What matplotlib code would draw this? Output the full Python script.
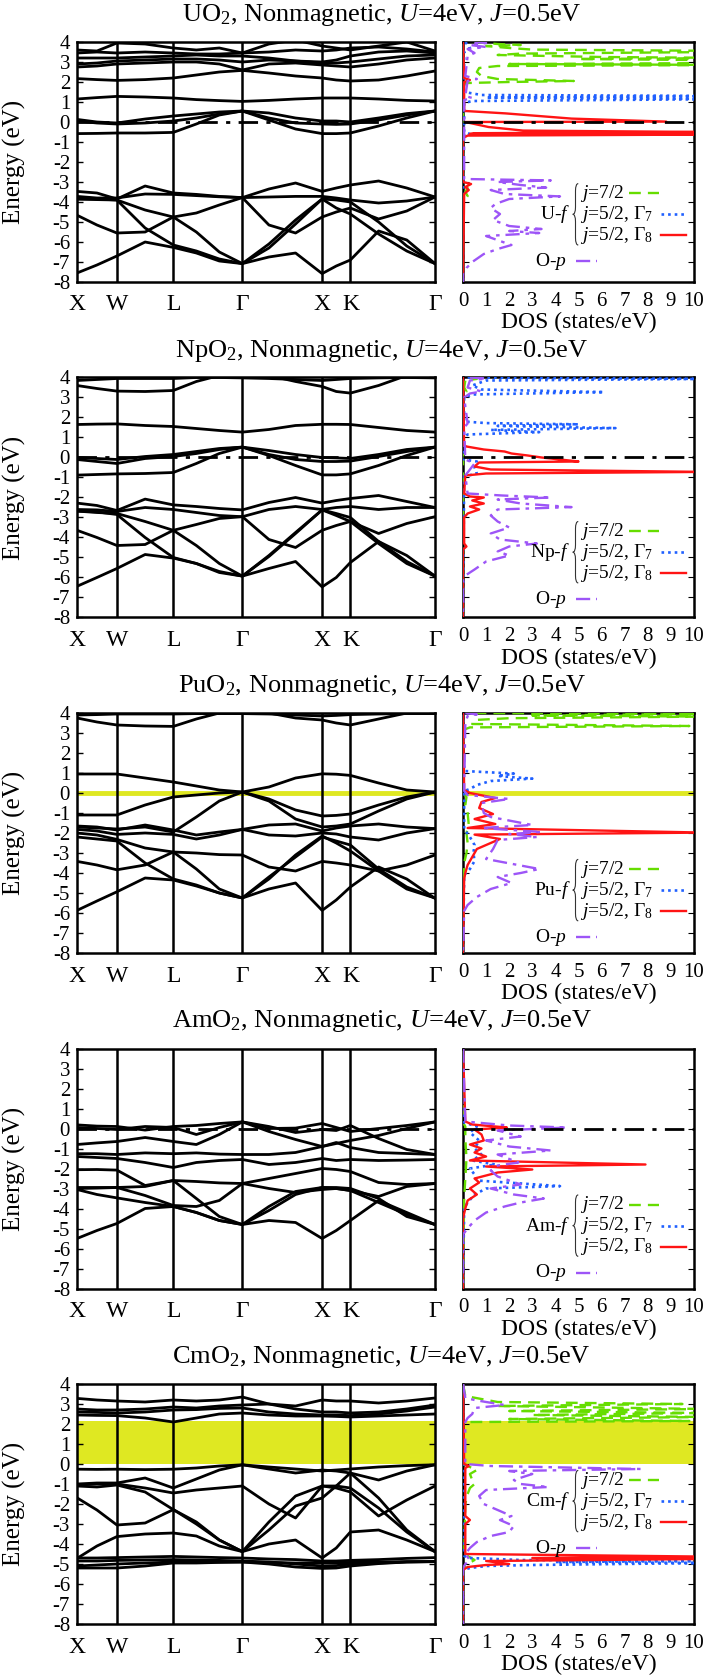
import matplotlib
matplotlib.use("Agg")
import matplotlib.pyplot as plt
from matplotlib.path import Path
from matplotlib.patches import PathPatch

plt.rcParams["font.family"] = ["Liberation Serif", "DejaVu Serif"]
plt.rcParams["mathtext.fontset"] = "custom"
plt.rcParams["mathtext.rm"] = "Liberation Serif"
plt.rcParams["mathtext.it"] = "Liberation Serif:italic"
plt.rcParams["axes.unicode_minus"] = False

# ==========================================================
# k-path (fcc): X W L G X K G
# ==========================================================

KPATH = [0.000, 0.250, 0.500, 0.854, 1.207, 1.496, 1.784, 2.073,
         2.406, 2.740, 3.073, 3.250, 3.427, 3.781, 4.134, 4.488]
KLABEL_POS = [0.000, 0.500, 1.207, 2.073, 3.073, 3.427, 4.488]
KLABELS = ["X", "W", "L", "Γ", "X", "K", "Γ"]

# ==========================================================
# Band energies (eV) sampled at KPATH
# ==========================================================

UO2_BANDS = [
    [-7.55, -7.15, -6.70, -6.00, -6.27, -6.55, -6.95, -7.08, -6.75, -6.55, -7.58, -7.20, -6.90, -5.45, -5.90, -7.08],
    [-4.66, -5.15, -5.55, -5.50, -4.75, -5.50, -6.50, -7.08, -6.30, -5.10, -3.85, -4.30, -4.60, -5.60, -6.45, -7.08],
    [-3.85, -3.88, -3.90, -5.30, -6.15, -6.45, -6.85, -7.08, -6.10, -4.90, -3.85, -3.90, -4.00, -5.00, -6.20, -7.08],
    [-3.85, -3.85, -3.90, -4.40, -4.75, -4.55, -4.15, -3.78, -5.15, -5.55, -4.75, -4.50, -4.30, -4.85, -4.45, -3.75],
    [-3.72, -3.80, -3.80, -3.60, -3.62, -3.68, -3.74, -3.78, -3.75, -3.72, -3.72, -3.80, -3.90, -4.05, -3.95, -3.75],
    [-3.47, -3.55, -3.85, -3.20, -3.55, -3.62, -3.72, -3.78, -3.35, -3.05, -3.47, -3.30, -3.15, -2.95, -3.30, -3.75],
    [-0.58, -0.57, -0.55, -0.55, -0.52, -0.10, 0.35, 0.55, 0.45, 0.20, 0.05, 0.05, 0.00, 0.20, 0.42, 0.55],
    [0.05, -0.05, -0.10, -0.05, 0.05, 0.20, 0.40, 0.55, 0.10, -0.35, -0.58, -0.58, -0.55, -0.20, 0.20, 0.55],
    [0.13, 0.00, -0.05, 0.15, 0.30, 0.40, 0.50, 0.55, 0.20, -0.05, -0.10, -0.12, -0.10, 0.10, 0.35, 0.55],
    [1.15, 1.22, 1.28, 1.25, 1.20, 1.12, 1.07, 1.03, 1.08, 1.15, 1.20, 1.20, 1.20, 1.15, 1.08, 1.05],
    [2.17, 2.12, 2.08, 2.12, 2.20, 2.35, 2.50, 2.58, 2.45, 2.30, 2.20, 2.10, 2.05, 2.10, 2.30, 2.55],
    [2.75, 2.80, 2.90, 2.95, 3.00, 3.00, 2.90, 2.60, 2.90, 2.95, 2.85, 2.80, 2.75, 2.90, 3.10, 3.20],
    [2.90, 2.95, 3.05, 3.10, 3.15, 3.15, 3.10, 3.00, 3.10, 3.05, 2.95, 2.95, 3.00, 3.15, 3.30, 3.35],
    [3.20, 3.20, 3.20, 3.25, 3.30, 3.35, 3.30, 3.30, 3.20, 3.05, 3.00, 3.10, 3.30, 3.50, 3.55, 3.45],
    [3.45, 3.50, 3.45, 3.50, 3.45, 3.40, 3.40, 3.45, 3.50, 3.60, 3.55, 3.60, 3.70, 3.75, 3.65, 3.50],
    [3.60, 3.55, 3.95, 3.90, 3.70, 3.60, 3.70, 3.45, 3.90, 4.10, 3.80, 3.70, 3.60, 3.80, 4.00, 3.55],
]

NPO2_BANDS = [
    [-6.44, -6.00, -5.55, -4.85, -5.03, -5.30, -5.70, -5.93, -5.55, -5.20, -6.47, -6.00, -5.25, -4.20, -4.90, -5.93],
    [-3.64, -4.00, -4.40, -4.35, -3.64, -4.40, -5.30, -5.93, -4.90, -3.75, -2.62, -2.90, -3.20, -4.30, -5.30, -5.93],
    [-2.68, -2.72, -2.85, -4.00, -5.00, -5.30, -5.75, -5.93, -4.95, -3.80, -2.62, -2.80, -3.00, -4.20, -5.20, -5.93],
    [-2.68, -2.75, -2.80, -3.20, -3.64, -3.35, -3.05, -2.96, -4.10, -4.50, -3.64, -3.40, -3.20, -3.80, -3.30, -2.96],
    [-2.60, -2.62, -2.70, -2.50, -2.60, -2.75, -2.90, -2.96, -2.60, -2.45, -2.60, -2.50, -2.45, -2.60, -2.50, -2.50],
    [-2.28, -2.40, -2.65, -2.08, -2.37, -2.45, -2.55, -2.62, -2.25, -2.00, -2.28, -2.15, -2.05, -1.90, -2.20, -2.50],
    [-0.88, -0.85, -0.82, -0.80, -0.75, -0.30, 0.20, 0.52, 0.35, 0.15, 0.00, -0.02, -0.05, 0.15, 0.40, 0.52],
    [0.00, -0.05, -0.10, 0.05, 0.15, 0.30, 0.45, 0.52, 0.10, -0.40, -0.87, -0.87, -0.82, -0.40, 0.10, 0.52],
    [-0.10, -0.20, -0.30, -0.05, 0.05, 0.20, 0.40, 0.52, 0.15, -0.10, -0.20, -0.20, -0.18, 0.05, 0.30, 0.52],
    [1.65, 1.67, 1.68, 1.60, 1.55, 1.45, 1.35, 1.27, 1.40, 1.60, 1.66, 1.66, 1.65, 1.50, 1.35, 1.27],
    [3.60, 3.45, 3.32, 3.30, 3.35, 3.80, 4.10, 4.30, 4.10, 3.80, 3.55, 3.30, 3.22, 3.60, 4.10, 4.30],
    [3.85, 3.90, 3.95, 3.95, 3.95, 4.00, 4.00, 3.98, 3.95, 3.90, 3.85, 3.90, 3.95, 3.98, 4.00, 3.98],
]

PUO2_BANDS = [
    [-5.87, -5.40, -4.94, -4.25, -4.35, -4.65, -5.00, -5.25, -4.80, -4.50, -5.87, -5.35, -4.70, -3.70, -4.30, -5.27],
    [-3.42, -3.60, -3.84, -3.60, -2.95, -3.80, -4.80, -5.25, -4.30, -3.10, -2.15, -2.50, -2.90, -3.90, -4.80, -5.25],
    [-2.20, -2.30, -2.40, -3.50, -4.30, -4.60, -5.00, -5.25, -4.20, -3.20, -2.20, -2.40, -2.60, -3.80, -4.70, -5.25],
    [-2.00, -2.10, -2.32, -2.75, -2.95, -3.00, -3.08, -3.10, -3.70, -3.90, -3.42, -3.50, -3.60, -3.90, -3.60, -3.10],
    [-1.82, -1.90, -2.07, -2.00, -2.07, -2.30, -2.10, -1.82, -2.10, -2.15, -2.00, -2.05, -2.20, -2.35, -2.00, -1.78],
    [-1.65, -1.70, -1.85, -1.60, -1.85, -2.10, -1.95, -1.82, -1.60, -1.55, -1.90, -1.75, -1.65, -1.55, -1.70, -1.78],
    [-1.70, -1.75, -1.80, -1.70, -1.95, -1.20, -0.40, 0.05, -0.40, -1.30, -1.70, -1.65, -1.55, -0.90, -0.30, 0.05],
    [-1.10, -1.10, -1.10, -0.60, -0.20, -0.10, 0.00, 0.05, -0.30, -0.85, -1.15, -1.12, -1.05, -0.60, -0.20, 0.05],
    [0.95, 0.95, 0.95, 0.75, 0.55, 0.35, 0.15, 0.05, 0.30, 0.75, 0.96, 0.94, 0.88, 0.50, 0.15, 0.05],
    [3.75, 3.55, 3.40, 3.35, 3.33, 3.70, 4.00, 4.20, 4.00, 3.75, 3.65, 3.50, 3.40, 3.70, 4.00, 4.20],
    [3.90, 3.92, 3.95, 3.95, 3.95, 3.97, 3.97, 3.97, 3.95, 3.90, 3.85, 3.88, 3.92, 3.95, 3.97, 3.97],
]

AMO2_BANDS = [
    [-5.50, -5.10, -4.75, -4.00, -3.90, -4.20, -4.60, -4.80, -4.60, -4.70, -5.50, -5.10, -4.60, -3.60, -4.20, -4.80],
    [-3.05, -3.30, -3.47, -3.70, -3.90, -4.20, -4.60, -4.80, -4.10, -3.30, -2.95, -3.00, -3.10, -3.70, -4.30, -4.80],
    [-3.00, -2.98, -2.95, -2.90, -2.60, -3.50, -4.40, -4.80, -3.90, -3.15, -2.95, -2.95, -3.00, -3.50, -4.40, -4.80],
    [-2.95, -2.95, -2.95, -3.35, -3.85, -3.90, -3.60, -2.75, -3.00, -3.20, -3.05, -3.00, -3.10, -3.40, -2.90, -2.75],
    [-2.06, -2.05, -2.08, -2.85, -2.60, -2.65, -2.72, -2.75, -2.50, -2.25, -2.00, -2.05, -2.15, -2.70, -2.80, -2.75],
    [-1.40, -1.45, -1.50, -1.70, -1.95, -1.70, -1.60, -1.55, -1.80, -1.70, -1.50, -1.60, -1.55, -1.60, -1.58, -1.55],
    [-1.26, -1.26, -1.30, -1.22, -1.26, -1.22, -1.28, -1.30, -1.30, -1.20, -0.90, -0.70, -0.95, -1.20, -1.25, -1.30],
    [-0.80, -0.72, -0.65, -0.45, -0.65, -0.80, -0.30, 0.33, 0.10, -0.20, -0.05, -0.10, 0.15, -0.50, -1.05, -1.30],
    [0.05, 0.00, -0.05, 0.10, 0.05, -0.30, 0.05, 0.33, -0.15, -0.55, -0.90, -0.75, -0.60, -0.35, 0.00, 0.33],
    [0.18, 0.12, 0.10, -0.08, 0.10, 0.15, 0.25, 0.33, 0.00, 0.02, 0.25, 0.05, -0.15, 0.00, 0.15, 0.33],
]

CMO2_BANDS = [
    [-5.20, -5.20, -5.20, -5.10, -4.95, -4.95, -4.92, -4.90, -5.00, -5.15, -5.22, -5.20, -5.10, -4.98, -4.90, -4.88],
    [-5.10, -5.05, -5.00, -4.95, -4.90, -4.88, -4.90, -4.90, -4.92, -4.95, -4.95, -4.95, -4.92, -4.90, -4.88, -4.88],
    [-4.85, -4.85, -4.82, -4.80, -4.78, -4.80, -4.82, -4.85, -4.90, -5.00, -5.10, -5.08, -5.00, -4.95, -4.90, -4.88],
    [-4.70, -4.70, -4.68, -4.65, -4.62, -4.65, -4.68, -4.70, -4.75, -4.78, -4.85, -4.85, -4.82, -4.78, -4.72, -4.68],
    [-4.72, -4.10, -3.63, -3.50, -3.45, -3.60, -4.10, -4.38, -4.00, -3.80, -4.70, -4.20, -3.40, -3.30, -3.80, -4.38],
    [-1.69, -2.30, -3.05, -2.95, -2.28, -3.00, -3.80, -4.38, -3.30, -2.10, -1.70, -1.10, -0.45, -1.70, -3.30, -4.38],
    [-1.10, -1.15, -1.05, -1.40, -2.28, -2.90, -3.80, -4.38, -2.90, -1.60, -1.10, -1.10, -1.20, -2.20, -3.40, -4.38],
    [-1.05, -1.00, -1.00, -1.20, -1.45, -1.30, -1.20, -1.10, -2.00, -2.70, -1.10, -1.20, -1.40, -2.60, -1.80, -1.10],
    [-1.00, -0.95, -0.95, -0.70, -1.20, -0.75, -0.30, -0.04, -0.25, -0.45, -0.30, -0.35, -0.45, -0.80, -0.35, -0.04],
    [-0.26, -0.27, -0.26, -0.28, -0.26, -0.20, -0.10, -0.04, -0.15, -0.25, -0.35, -0.30, -0.25, -0.15, -0.08, -0.04],
    [2.45, 2.43, 2.42, 2.30, 2.10, 2.30, 2.50, 2.55, 2.45, 2.40, 2.40, 2.38, 2.35, 2.40, 2.45, 2.50],
    [2.60, 2.58, 2.55, 2.60, 2.70, 2.72, 2.78, 2.80, 2.60, 2.50, 2.45, 2.45, 2.42, 2.50, 2.65, 2.85],
    [2.75, 2.70, 2.70, 2.75, 2.85, 2.80, 2.90, 2.95, 3.00, 2.75, 2.60, 2.60, 2.55, 2.60, 2.75, 2.95],
    [3.28, 3.20, 3.15, 3.10, 3.20, 3.15, 3.20, 3.35, 3.00, 2.90, 3.20, 3.15, 3.15, 3.05, 3.15, 3.30],
]

# ==========================================================
# Projected DOS: (energy eV, states/eV)
# ==========================================================

UO2_J72 = [(4.0, 0.5), (3.9, 1.5), (3.85, 2.5), (3.8, 1.0), (3.7, 2.0), (3.62, 3.0), (3.55, 12), (3.5, 11),
           (3.42, 2.5), (3.35, 1.5), (3.25, 6), (3.2, 12), (3.15, 5), (3.08, 12), (3.02, 11), (2.95, 12),
           (2.9, 2.0), (2.85, 12), (2.8, 1.5), (2.7, 0.7), (2.5, 0.6), (2.3, 0.8), (2.15, 1.5), (2.05, 4.8),
           (2.0, 2.0), (1.95, 0.2), (1.9, 0.0), (-3.1, 0.0), (-3.3, 0.2), (-3.5, 0.1), (-3.7, 0.2),
           (-4.0, 0.0), (-8.0, 0.0)]
UO2_G7 = [(4.0, 0.1), (3.7, 0.3), (3.5, 0.05), (1.5, 0.05), (1.35, 0.8), (1.3, 12), (1.22, 1.0),
          (1.15, 12), (1.05, 0.4), (0.95, 0.05), (-0.5, 0.05), (-0.6, 0.3), (-0.7, 0.0), (-8.0, 0.0)]
UO2_G8 = [(4.0, 0.0), (2.2, 0.05), (2.1, 0.3), (2.0, 0.05), (0.6, 0.05), (0.55, 0.1), (0.43, 1.85),
          (0.17, 4.7), (0.02, 8.8), (0.0, 0.1), (-0.25, 1.1), (-0.43, 2.6), (-0.5, 10.5), (-0.56, 0.5),
          (-0.6, 0.3), (-0.63, 10.5), (-0.68, 0.2), (-0.8, 0.0), (-3.0, 0.0), (-3.1, 0.35), (-3.25, 0.1),
          (-3.4, 0.25), (-3.6, 0.05), (-8.0, 0.0)]
UO2_OP = [(4.0, 0.5), (3.95, 1.0), (3.85, 0.3), (3.75, 1.0), (3.65, 0.2), (3.45, 0.5), (3.3, 0.2),
          (2.3, 0.1), (2.15, 0.6), (2.05, 0.2), (1.3, 0.1), (1.2, 0.4), (1.1, 0.05), (-2.85, 0.05),
          (-2.92, 3.8), (-3.0, 1.5), (-3.15, 2.5), (-3.28, 3.6), (-3.4, 1.2), (-3.6, 1.8), (-3.72, 4.2),
          (-3.85, 2.0), (-4.1, 1.4), (-4.3, 1.2), (-4.6, 1.6), (-4.9, 1.3), (-5.2, 2.0), (-5.35, 3.4),
          (-5.45, 2.0), (-5.55, 3.3), (-5.7, 1.0), (-5.95, 1.6), (-6.15, 2.1), (-6.35, 1.5), (-6.6, 0.9),
          (-7.0, 0.4), (-7.3, 0.15), (-7.6, 0.0), (-8.0, 0.0)]

NPO2_J72 = [(4.0, 0.3), (3.93, 0.6), (3.85, 0.1), (3.5, 0.05), (3.3, 0.15), (3.2, 0.0), (-8.0, 0.0)]
NPO2_G7 = [(4.0, 0.2), (3.93, 10.5), (3.85, 1.0), (3.6, 0.4), (3.4, 0.8), (3.27, 6.1), (3.15, 0.4),
           (3.0, 0.05), (1.8, 0.05), (1.72, 1.0), (1.66, 5.0), (1.58, 1.5), (1.47, 6.6), (1.38, 1.2),
           (1.27, 3.3), (1.15, 0.2), (1.0, 0.0), (-0.1, 0.05), (-0.2, 0.6), (-0.5, 0.5), (-0.8, 0.6),
           (-0.95, 0.05), (-8.0, 0.0)]
NPO2_G8 = [(4.0, 0.0), (0.6, 0.05), (0.55, 0.15), (0.4, 0.9), (0.3, 1.8), (0.2, 2.1), (0.1, 2.8),
           (0.0, 3.4), (-0.1, 4.2), (-0.2, 5.0), (-0.25, 0.7), (-0.45, 0.5), (-0.6, 1.2), (-0.72, 10.5),
           (-0.8, 1.0), (-0.9, 0.1), (-1.8, 0.05), (-1.95, 0.3), (-2.0, 0.9), (-2.15, 0.4), (-2.3, 0.9),
           (-2.45, 0.3), (-2.6, 0.7), (-2.8, 0.2), (-3.0, 0.05), (-4.3, 0.05), (-4.45, 0.15), (-4.6, 0.0),
           (-8.0, 0.0)]
NPO2_OP = [(4.0, 0.3), (3.95, 1.0), (3.85, 0.3), (3.5, 0.2), (3.3, 0.8), (3.2, 0.3), (3.0, 0.05),
           (1.7, 0.2), (1.5, 0.05), (-0.1, 0.1), (-0.3, 0.5), (-0.6, 0.3), (-0.9, 0.1), (-1.8, 0.2),
           (-1.9, 1.7), (-2.0, 3.8), (-2.1, 1.5), (-2.3, 2.5), (-2.48, 4.7), (-2.6, 1.5), (-2.9, 1.2),
           (-3.2, 1.5), (-3.5, 2.0), (-3.8, 1.2), (-4.1, 1.6), (-4.3, 3.2), (-4.45, 2.0), (-4.7, 1.5),
           (-4.9, 2.0), (-5.2, 1.0), (-5.6, 0.5), (-5.9, 0.1), (-6.1, 0.0), (-8.0, 0.0)]

PUO2_J72 = [(4.0, 0.5), (3.95, 10.5), (3.88, 3.0), (3.82, 10.5), (3.74, 2.0), (3.65, 0.5), (3.45, 0.4),
            (3.35, 9.8), (3.28, 0.3), (3.15, 0.0), (0.0, 0.0), (-0.2, 0.15), (-0.6, 0.1), (-1.0, 0.2),
            (-1.6, 0.25), (-2.0, 0.15), (-2.5, 0.2), (-3.0, 0.15), (-3.5, 0.05), (-8.0, 0.0)]
PUO2_G7 = [(4.0, 0.0), (1.1, 0.05), (0.97, 2.2), (0.85, 1.5), (0.72, 3.0), (0.6, 1.2), (0.4, 0.6),
           (0.2, 0.3), (0.1, 0.05), (-1.8, 0.05), (-2.2, 0.3), (-2.6, 0.5), (-3.0, 0.45), (-3.4, 0.5),
           (-3.8, 0.3), (-4.1, 0.05), (-8.0, 0.0)]
PUO2_G8 = [(4.0, 0.0), (0.15, 0.05), (0.0, 0.3), (-0.25, 1.4), (-0.45, 0.8), (-0.75, 0.7), (-1.05, 1.3),
           (-1.3, 0.5), (-1.55, 1.4), (-1.75, 0.2), (-1.98, 10.5), (-2.08, 0.5), (-2.3, 1.6), (-2.5, 1.2),
           (-2.8, 0.6), (-3.2, 0.4), (-3.6, 0.2), (-4.0, 0.1), (-4.3, 0.05), (-8.0, 0.0)]
PUO2_OP = [(4.0, 0.1), (3.93, 0.6), (3.85, 0.2), (3.5, 0.1), (0.1, 0.05), (-0.1, 0.2), (-0.3, 2.0),
           (-0.5, 0.8), (-1.0, 0.9), (-1.2, 1.2), (-1.6, 3.0), (-1.75, 0.8), (-1.95, 3.4), (-2.05, 2.0),
           (-2.2, 3.2), (-2.35, 1.5), (-2.8, 1.3), (-3.3, 1.0), (-3.8, 3.3), (-4.0, 2.5), (-4.2, 1.5),
           (-4.5, 2.1), (-4.8, 1.2), (-5.2, 0.6), (-5.6, 0.2), (-5.9, 0.05), (-8.0, 0.0)]

AMO2_J72 = [(4.0, 0.0), (0.3, 0.0), (0.1, 0.1), (-0.5, 0.1), (-1.5, 0.15), (-2.5, 0.1), (-3.5, 0.05),
            (-8.0, 0.0)]
AMO2_G7 = [(4.0, 0.0), (0.3, 0.05), (0.1, 0.6), (-0.2, 0.3), (-0.6, 0.7), (-1.0, 0.5), (-1.3, 0.8),
           (-1.6, 0.4), (-1.8, 1.4), (-2.0, 0.3), (-2.3, 0.5), (-2.6, 0.6), (-2.88, 4.2), (-3.0, 1.0),
           (-3.3, 0.5), (-3.7, 0.2), (-4.0, 0.05), (-8.0, 0.0)]
AMO2_G8 = [(4.0, 0.0), (0.35, 0.1), (0.2, 0.4), (0.1, 1.4), (0.05, 1.9), (-0.05, 0.5), (-0.3, 0.8),
           (-0.6, 0.9), (-0.8, 0.3), (-1.0, 0.8), (-1.2, 0.5), (-1.4, 1.0), (-1.6, 0.3), (-1.8, 7.9),
           (-1.9, 1.0), (-2.05, 3.0), (-2.2, 1.5), (-2.5, 0.5), (-2.7, 0.7), (-3.0, 0.3), (-3.3, 0.6),
           (-3.6, 0.2), (-4.0, 0.1), (-4.5, 0.0), (-8.0, 0.0)]
AMO2_OP = [(4.0, 0.0), (0.35, 0.1), (0.15, 2.0), (0.05, 4.5), (-0.1, 1.5), (-0.4, 2.5), (-0.6, 1.0),
           (-0.9, 2.0), (-1.1, 3.8), (-1.3, 1.5), (-1.7, 2.4), (-1.85, 1.5), (-2.1, 1.2), (-2.4, 1.5),
           (-2.8, 2.5), (-3.0, 1.2), (-3.3, 2.2), (-3.5, 3.5), (-3.7, 2.5), (-3.9, 1.8), (-4.2, 1.0),
           (-4.6, 0.5), (-5.0, 0.2), (-5.3, 0.0), (-8.0, 0.0)]

CMO2_J72 = [(4.0, 0.0), (3.4, 0.1), (3.25, 0.8), (3.1, 1.5), (3.0, 9.5), (2.9, 1.5), (2.75, 10.5),
            (2.65, 2.0), (2.55, 10.5), (2.45, 3.0), (2.35, 10.5), (2.25, 2.0), (2.15, 9.8), (2.1, 0.3),
            (2.0, 0.0), (0.0, 0.0), (-0.1, 0.2), (-0.3, 0.6), (-0.5, 0.3), (-0.8, 0.4), (-1.0, 0.5),
            (-1.2, 0.3), (-1.5, 0.2), (-2.0, 0.1), (-4.5, 0.05), (-4.6, 0.2), (-4.8, 0.5), (-5.0, 0.2),
            (-5.2, 0.0), (-8.0, 0.0)]
CMO2_G7 = [(4.0, 0.0), (-4.6, 0.05), (-4.7, 0.3), (-4.8, 2.5), (-4.85, 10.5), (-4.9, 4.0), (-4.95, 10.5),
           (-5.05, 3.0), (-5.1, 1.0), (-5.2, 0.3), (-5.3, 0.0), (-8.0, 0.0)]
CMO2_G8 = [(4.0, 0.0), (0.0, 0.05), (-0.1, 0.25), (-0.2, 0.1), (-2.6, 0.1), (-2.8, 0.3), (-3.0, 0.1),
           (-4.5, 0.1), (-4.63, 10.5), (-4.7, 3.0), (-4.75, 10.5), (-4.85, 1.0), (-5.0, 2.0), (-5.05, 1.0),
           (-5.15, 0.2), (-5.3, 0.0), (-8.0, 0.0)]
CMO2_OP = [(4.0, 0.0), (3.3, 0.1), (3.2, 0.5), (3.1, 1.0), (2.95, 1.8), (2.8, 0.5), (2.5, 0.4),
           (2.3, 0.2), (2.1, 0.1), (0.0, 0.1), (-0.1, 1.2), (-0.25, 7.7), (-0.35, 2.0), (-0.5, 3.0),
           (-0.8, 2.2), (-1.0, 2.5), (-1.15, 3.7), (-1.3, 1.0), (-1.6, 0.7), (-2.0, 0.9), (-2.3, 1.5),
           (-2.6, 2.1), (-2.8, 1.6), (-3.1, 2.2), (-3.4, 2.0), (-3.6, 1.2), (-3.9, 0.6), (-4.2, 0.3),
           (-4.5, 0.1), (-4.8, 0.3), (-5.0, 0.1), (-5.2, 0.0), (-8.0, 0.0)]

COMPOUNDS = ["UO$_2$", "NpO$_2$", "PuO$_2$", "AmO$_2$", "CmO$_2$"]
ELEMENTS = ["U", "Np", "Pu", "Am", "Cm"]
# Fermi marker per row: "line" (dash-dot), "yellow" (Pu), gap shading for Cm
FERMI_STYLE = ["line", "line", "yellow", "line", "gap"]
CM_GAP = (0.0, 2.15)

ALL_BANDS = [UO2_BANDS, NPO2_BANDS, PUO2_BANDS, AMO2_BANDS, CMO2_BANDS]
ALL_DOS = [
    (UO2_J72, UO2_G7, UO2_G8, UO2_OP),
    (NPO2_J72, NPO2_G7, NPO2_G8, NPO2_OP),
    (PUO2_J72, PUO2_G7, PUO2_G8, PUO2_OP),
    (AMO2_J72, AMO2_G7, AMO2_G8, AMO2_OP),
    (CMO2_J72, CMO2_G7, CMO2_G8, CMO2_OP),
]

# legend top row position (axes fraction) per panel
LEGEND_TOP = [0.37, 0.36, 0.35, 0.35, 0.60]

GREEN = "#66dd00"
BLUE = "#2060ff"
RED = "#ff1414"
PURPLE = "#9d55f7"
YELLOW = "#dfe822"

DOS_STYLES = [
    dict(color=GREEN, ls=(0, (5, 3)), lw=1.7),
    dict(color=BLUE, ls=(0, (1, 1.5)), lw=1.9),
    dict(color=RED, ls="-", lw=1.7),
    dict(color=PURPLE, ls=(0, (6, 2.5, 1.5, 2.5)), lw=1.7),
]
FERMI_LS = (0, (7, 3, 1.5, 3))

# ==========================================================
# Figure layout
# ==========================================================

W, H = 707, 1676
fig = plt.figure(figsize=(W / 100, H / 100), dpi=100)

ROW_TOP = 42
ROW_STEP = 335.5
FRAME_H = 240
BAND_X0, BAND_X1 = 77, 435
DOS_X0, DOS_X1 = 463, 694


def draw_brace(ax, x, y0, y1, w=0.024, d=0.03):
    ym = 0.5 * (y0 + y1)
    xm = x + w / 2
    xr = x + w
    verts = [(xr, y1), (xm, y1), (xm, y1 - d), (xm, ym + d), (xm, ym), (x, ym),
             (xm, ym), (xm, ym - d), (xm, y0 + d), (xm, y0), (xr, y0)]
    codes = [Path.MOVETO, Path.CURVE3, Path.CURVE3, Path.LINETO, Path.CURVE3, Path.CURVE3,
             Path.CURVE3, Path.CURVE3, Path.LINETO, Path.CURVE3, Path.CURVE3]
    ax.add_patch(PathPatch(Path(verts, codes), transform=ax.transAxes, fc="none",
                           ec="#333333", lw=0.8, clip_on=False))


for i in range(5):
    top = ROW_TOP + i * ROW_STEP
    bottom_frac = 1 - (top + FRAME_H) / H
    h_frac = FRAME_H / H

    axb = fig.add_axes([BAND_X0 / W, bottom_frac, (BAND_X1 - BAND_X0) / W, h_frac])
    axd = fig.add_axes([DOS_X0 / W, bottom_frac, (DOS_X1 - DOS_X0) / W, h_frac])

    # ----- band structure -----
    style = FERMI_STYLE[i]
    if style == "line":
        axb.axhline(0, color="black", ls=FERMI_LS, lw=2.0, zorder=2)
        axd.axhline(0, color="black", ls=FERMI_LS, lw=2.0, zorder=4)
    elif style == "yellow":
        axb.axhline(0, color=YELLOW, lw=3.5, zorder=1)
        axd.axhline(0, color=YELLOW, lw=3.5, zorder=1)
    else:
        axb.axhspan(CM_GAP[0], CM_GAP[1], color=YELLOW, lw=0, zorder=0)
        axd.axhspan(CM_GAP[0], CM_GAP[1], color=YELLOW, lw=0, zorder=0)

    for band in ALL_BANDS[i]:
        axb.plot(KPATH, band, color="black", lw=2.0, zorder=3, solid_joinstyle="round")
    for kx in KLABEL_POS[1:-1]:
        axb.axvline(kx, color="black", lw=1.8, zorder=3)

    axb.set_xlim(KPATH[0], KPATH[-1])
    axb.set_ylim(-8, 4)
    axb.set_xticks(KLABEL_POS)
    axb.set_xticklabels(KLABELS, fontsize=17)
    axb.tick_params(axis="x", length=0, pad=9)
    axb.set_yticks(range(-8, 5))
    axb.tick_params(axis="y", direction="in", length=4, width=1.0, labelsize=15,
                    left=True, right=True, pad=5)
    for sp in axb.spines.values():
        sp.set_linewidth(1.8)

    fig.text(14 / W, 1 - (top + FRAME_H / 2) / H, "Energy (eV)", rotation=90,
             fontsize=18, ha="center", va="center")
    fig.text(0.54, 1 - (top - 27) / H,
             COMPOUNDS[i] + ", Nonmagnetic, $U$=4eV, $J$=0.5eV",
             fontsize=19, ha="center", va="center")

    # ----- DOS -----
    for curve, st in zip(ALL_DOS[i], DOS_STYLES):
        energies = [p[0] for p in curve]
        dos = [p[1] for p in curve]
        axd.plot(dos, energies, zorder=3, **st)

    axd.set_xlim(0, 10)
    axd.set_ylim(-8, 4)
    axd.set_xticks(range(0, 11))
    axd.set_yticks(range(-8, 5))
    axd.tick_params(axis="y", direction="in", length=4, labelleft=False, left=True, right=True)
    axd.tick_params(axis="x", direction="in", length=0, labelsize=15, pad=7)
    axd.set_xlabel("DOS (states/eV)", fontsize=17, labelpad=1)
    for sp in axd.spines.values():
        sp.set_linewidth(1.8)

    # ----- legend -----
    yt = LEGEND_TOP[i]
    dy = 0.088
    rows = [r"$j$=7/2", r"$j$=5/2, Γ$_7$", r"$j$=5/2, Γ$_8$"]
    key_x = [(0.72, 0.85), (0.855, 0.965), (0.855, 0.965)]
    for r in range(3):
        y = yt - r * dy
        axd.text(0.505, y, rows[r], transform=axd.transAxes, fontsize=14, va="center", ha="left")
        axd.plot(key_x[r], [y, y], transform=axd.transAxes, **DOS_STYLES[r])
    axd.text(0.465, yt - dy, ELEMENTS[i] + "-$f$", transform=axd.transAxes, fontsize=14,
             va="center", ha="right")
    draw_brace(axd, 0.475, yt - 2 * dy - 0.04, yt + 0.04)
    yo = yt - 3 * dy - 0.02
    axd.text(0.45, yo, "O-$p$", transform=axd.transAxes, fontsize=14, va="center", ha="right")
    axd.plot([0.49, 0.58], [yo, yo], transform=axd.transAxes, **DOS_STYLES[3])

fig.savefig("out.png", dpi=100)
